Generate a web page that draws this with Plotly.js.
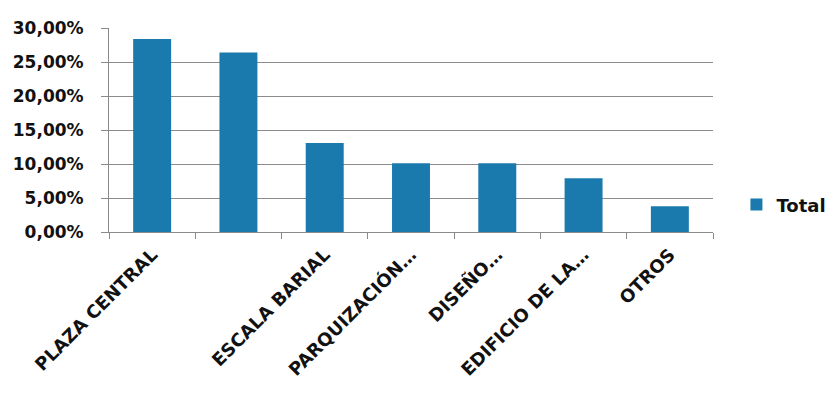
<!DOCTYPE html>
<html>
<head>
<meta charset="utf-8">
<script src="https://cdn.plot.ly/plotly-3.0.1.min.js"></script>
<style>
  html, body { margin: 0; padding: 0; background: #ffffff; }
  #chart { width: 834px; height: 394px; }
</style>
</head>
<body>
<div id="chart"></div>
<script>
// Category labels along the x axis (the second one is left blank on the axis)
const categories = ["PLAZA CENTRAL", "", "ESCALA BARIAL", "PARQUIZACIÓN…", "DISEÑO…", "EDIFICIO DE LA…", "OTROS"];
// Share of responses per category
const totals = [0.284, 0.264, 0.131, 0.101, 0.101, 0.079, 0.038];
// Y axis tick values
const yTicks = [0, 0.05, 0.10, 0.15, 0.20, 0.25, 0.30];
const seriesName = "Total";

const positions = categories.map((_, i) => i);
const baseFont = { family: "DejaVu Sans", size: 17, color: "#111111", weight: "bold" };
const catFont = { family: "DejaVu Sans", size: 18, color: "#111111", weight: "bold" };
const legendFont = { family: "DejaVu Sans", size: 18, color: "#111111", weight: "bold" };

const trace = {
  type: "bar",
  name: seriesName,
  x: positions,
  y: totals,
  marker: { color: "#1a7aae" },
  hoverinfo: "skip",
  showlegend: true
};

const layout = {
  width: 834,
  height: 394,
  margin: { l: 109, r: 121, t: 28, b: 162 },
  paper_bgcolor: "#ffffff",
  plot_bgcolor: "#ffffff",
  font: baseFont,
  bargap: 0.56,
  showlegend: true,
  legend: {
    xref: "container", yref: "container",
    x: 0.883, xanchor: "left",
    y: 0.48, yanchor: "middle",
    font: legendFont,
    bgcolor: "rgba(0,0,0,0)"
  },
  xaxis: {
    range: [-0.5, categories.length - 0.5],
    tickmode: "array",
    tickvals: positions,
    ticktext: categories,
    tickangle: -45,
    ticks: "",
    ticklabelstandoff: 4,
    showgrid: false,
    zeroline: false,
    showline: true,
    linecolor: "#8a8a8a",
    linewidth: 1,
    tickfont: catFont,
    minor: {
      tick0: -0.5, dtick: 1,
      ticks: "outside", ticklen: 6, tickwidth: 1, tickcolor: "#8a8a8a",
      showgrid: false
    }
  },
  yaxis: {
    range: [0, 0.30],
    tickmode: "array",
    tickvals: yTicks,
    tickformat: ".2%",
    ticks: "outside",
    ticklen: 7,
    tickcolor: "#8a8a8a",
    ticklabelstandoff: 14,
    showgrid: true,
    gridcolor: "#8c8c8c",
    gridwidth: 1,
    zeroline: false,
    showline: true,
    linecolor: "#8a8a8a",
    linewidth: 1,
    tickfont: baseFont
  },
  separators: ",."
};

Plotly.newPlot("chart", [trace], layout, { displayModeBar: false, staticPlot: true });
</script>
</body>
</html>
